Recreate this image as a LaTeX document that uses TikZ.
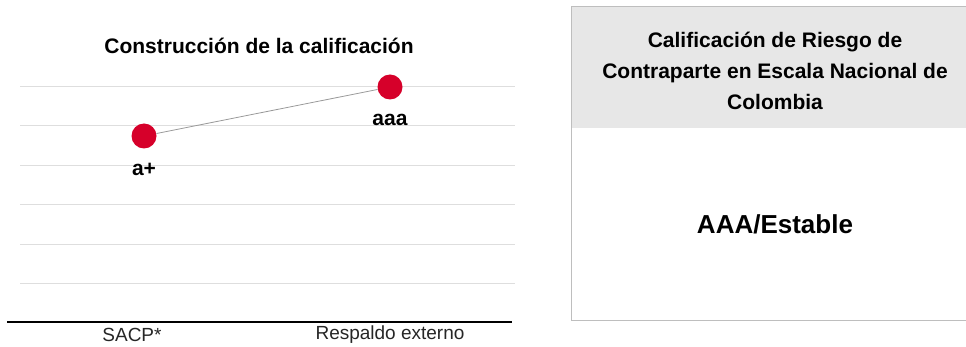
\documentclass[tikz,border=0pt]{standalone}
\usepackage{fontspec}
\setmainfont{Liberation Sans}
\usepackage{tikz}
\usetikzlibrary{shapes,arrows,positioning}
\definecolor{spred}{RGB}{214,0,42}
\definecolor{gridgray}{RGB}{222,222,222}
\definecolor{boxgray}{RGB}{190,190,190}
\definecolor{headgray}{RGB}{231,231,231}
\tikzstyle{ratingdot} = [circle, fill=spred, inner sep=0pt, minimum size=25pt]
\tikzstyle{gridline} = [draw=gridgray, line width=1pt]
\tikzstyle{ratinglabel} = [font=\fontsize{21}{25}\selectfont\bfseries, inner sep=0pt]
\tikzstyle{axislabel} = [font=\fontsize{19}{23}\selectfont, text=black!85]
\tikzstyle{headtext} = [font=\fontsize{21}{31}\selectfont\bfseries, align=center]

\begin{document}
\begin{tikzpicture}[x=1pt, y=-1pt]
		\useasboundingbox (0,0) rectangle (966,347);
		
		\foreach \y in {87,126,166,205,245,284}
		\draw [gridline] (20,\y) -- (515,\y);
		\draw [black, line width=1.6pt] (7,322) -- (512,322);
		
		\node [ratinglabel] (title) at (259,46) {Construcción de la calificación};
		
		\node [ratingdot] (sacp) at (144,136) {};
		\node [ratingdot] (ext) at (390,87) {};
		\draw [black!40, line width=0.8pt] (sacp) -- (ext);
		
		\node [ratinglabel, below=14pt of sacp] (sacpval) {a+};
		\node [ratinglabel, below=14pt of ext] (extval) {aaa};
		
		\node [axislabel] (sacpaxis) at (132,335) {SACP*};
		\node [axislabel] (extaxis) at (390,335) {Respaldo externo};
		
		\draw [boxgray, fill=white, line width=1pt] (571,7) rectangle (980,320);
		\fill [headgray] (571.5,7.5) rectangle (980,128);
		\node [headtext] (head) at (775,71) {Calificación de Riesgo de\\Contraparte en Escala Nacional de\\Colombia};
		\node [ratinglabel, font=\fontsize{26}{30}\selectfont\bfseries] (rating) at (775,224) {AAA/Estable};
		
		\end{tikzpicture}
\end{document}
